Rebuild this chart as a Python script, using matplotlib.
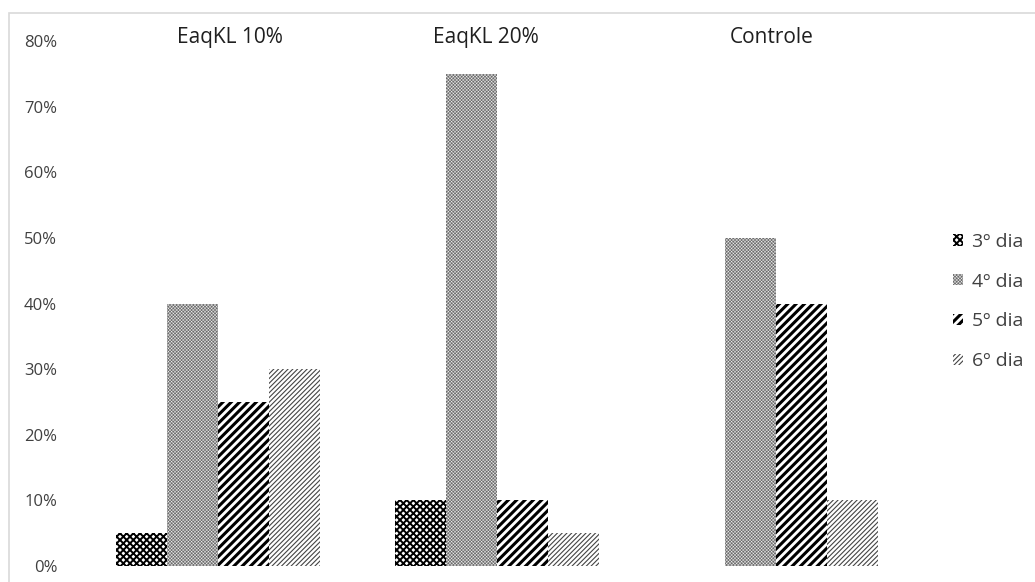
import numpy as np
import matplotlib
matplotlib.use('Agg')
import matplotlib.pyplot as plt
from matplotlib.patches import Rectangle

# dados
groups = ['EaqKL 10%', 'EaqKL 20%', 'Controle']
series = ['3º dia', '4º dia', '5º dia', '6º dia']
dia3 = [0.05, 0.10, 0.0]
dia4 = [0.40, 0.75, 0.50]
dia5 = [0.25, 0.10, 0.40]
dia6 = [0.30, 0.05, 0.10]
yticks = [0, 0.1, 0.2, 0.3, 0.4, 0.5, 0.6, 0.7, 0.8]

plt.rcParams['font.family'] = ['Open Sans', 'DejaVu Sans']

fig = plt.figure(figsize=(10.35, 5.82), dpi=100)
ax = fig.add_axes([60 / 1035, 16 / 582, 875 / 1035, 525 / 582])

# estilos de hachura (face, cor da hachura, padrão, espessura)
styles = [
    ('white', 'black', 'xxxxx', 1.4),
    ('#6c6c6c', '#e8e8e8', 'xxxxxxxxxx', 0.35),
    ('white', 'black', '////', 2.2),
    ('white', '#444444', '///////', 0.8),
]


def set_hlw(patch, lw):
    try:
        patch.set_hatch_linewidth(lw)
    except AttributeError:
        pass


w = 51 / 279
x = np.arange(len(groups))
for k, (vals, lab) in enumerate(zip([dia3, dia4, dia5, dia6], series)):
    fc, hc, hatch, hlw = styles[k]
    bars = ax.bar(x + (k - 1.5) * w, vals, width=w, facecolor=fc, edgecolor=hc,
                  hatch=hatch, linewidth=0, label=lab)
    for b in bars:
        set_hlw(b, hlw)

ax.set_xlim((60 - 218) / 279, (935 - 218) / 279)
ax.set_ylim(0, 0.8)
ax.set_yticks(yticks)
ax.set_yticklabels([f'{int(round(v * 100))}%' for v in yticks], fontsize=12, color='#404040')
ax.tick_params(axis='y', length=0, pad=2)
ax.set_xticks([])
for s in ax.spines.values():
    s.set_visible(False)

# rótulos dos grupos (caixas de texto um pouco deslocadas como no original)
label_shift = [0.043, -0.039, -0.014]
for i, g in enumerate(groups):
    ax.text(i + label_shift[i], 0.805, g, ha='center', va='center', fontsize=15,
            color='#1f1f1f', clip_on=False)

leg = ax.legend(loc='center left', bbox_to_anchor=(953 / 1035, 1 - 301.5 / 582),
                bbox_transform=fig.transFigure, frameon=False, borderpad=0, borderaxespad=0,
                fontsize=14, handlelength=0.52, handleheight=0.52, handletextpad=0.45,
                labelspacing=1.12, labelcolor='#404040')
for p, st in zip(leg.get_patches(), styles):
    set_hlw(p, st[3])

# moldura cinza do gráfico
fig.patches.append(Rectangle((9 / 1035, -0.1), 1.2, (582 - 13) / 582 + 0.1,
                             transform=fig.transFigure, fill=False,
                             edgecolor='#d9d9d9', linewidth=1.2))

fig.savefig('out.png', dpi=100)
